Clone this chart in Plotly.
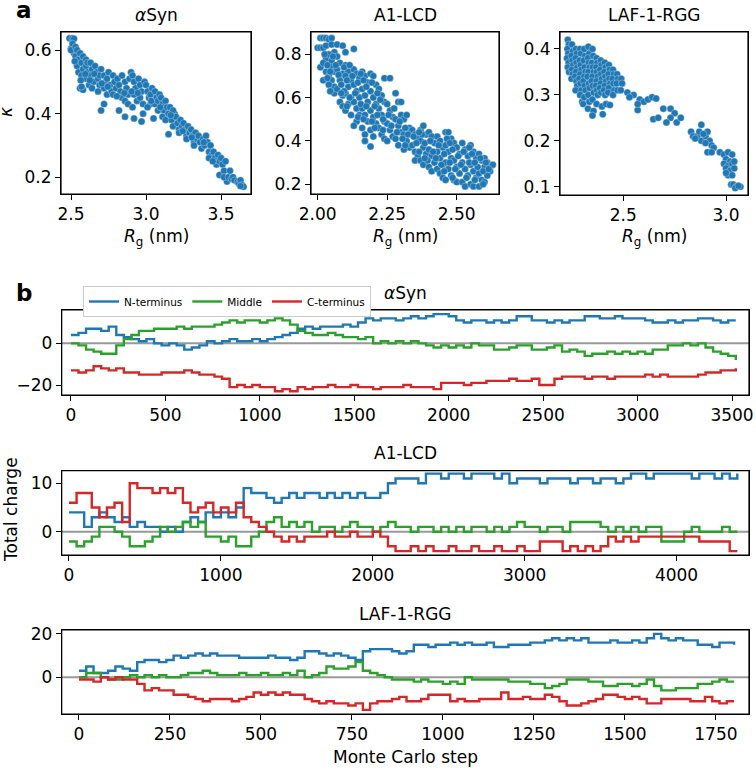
import plotly.graph_objects as go

BLUE = "#1f77b4"
GREEN = "#2ca02c"
RED = "#d62728"
FONT = "DejaVu Sans"
W, H = 756, 768

# ---------------- panel a: kappa vs Rg ----------------
asyn_points = [
    (2.49, 0.637), (2.51, 0.637), (2.52, 0.636), (2.50, 0.605), (2.51, 0.62), (2.52, 0.59), (2.50, 0.60),
    (2.53, 0.61), (2.54, 0.60), (2.53, 0.58), (2.55, 0.57), (2.54, 0.55), (2.55, 0.53), (2.56, 0.59),
    (2.56, 0.48), (2.58, 0.475), (2.57, 0.485), (2.57, 0.56), (2.58, 0.54), (2.57, 0.52), (2.58, 0.58),
    (2.60, 0.57), (2.60, 0.55), (2.61, 0.53), (2.60, 0.51), (2.62, 0.49), (2.61, 0.56),
    (2.63, 0.56), (2.64, 0.54), (2.63, 0.52), (2.65, 0.50), (2.64, 0.48), (2.66, 0.55),
    (2.67, 0.53), (2.68, 0.51), (2.69, 0.49), (2.68, 0.47), (2.70, 0.54), (2.69, 0.52),
    (2.70, 0.41), (2.72, 0.43),
    (2.72, 0.52), (2.73, 0.50), (2.72, 0.48), (2.74, 0.46), (2.75, 0.53), (2.74, 0.51),
    (2.76, 0.49), (2.77, 0.47), (2.78, 0.52), (2.79, 0.50), (2.78, 0.46), (2.80, 0.48),
    (2.81, 0.51), (2.82, 0.49), (2.83, 0.47), (2.84, 0.45), (2.82, 0.41), (2.84, 0.52),
    (2.86, 0.39), (2.86, 0.50), (2.87, 0.48), (2.88, 0.46), (2.86, 0.44), (2.89, 0.51), (2.88, 0.43),
    (2.90, 0.53), (2.91, 0.52), (2.92, 0.50), (2.93, 0.48), (2.92, 0.46), (2.94, 0.44), (2.92, 0.385), (2.91, 0.42),
    (2.95, 0.51), (2.96, 0.49), (2.97, 0.47), (2.96, 0.45), (2.98, 0.43), (2.97, 0.375), (2.98, 0.40), (2.99, 0.50),
    (3.00, 0.49), (3.01, 0.47), (3.02, 0.45), (3.03, 0.43), (3.01, 0.42), (3.04, 0.48), (3.03, 0.46),
    (3.05, 0.385), (3.06, 0.47), (3.07, 0.45), (3.06, 0.43), (3.08, 0.41), (3.09, 0.46), (3.08, 0.44),
    (3.10, 0.45), (3.11, 0.43), (3.12, 0.41), (3.11, 0.39), (3.13, 0.44), (3.14, 0.42), (3.13, 0.38),
    (3.15, 0.335), (3.15, 0.40), (3.16, 0.42), (3.17, 0.38), (3.18, 0.36), (3.19, 0.40), (3.18, 0.41),
    (3.20, 0.39), (3.21, 0.37), (3.22, 0.35), (3.23, 0.38), (3.24, 0.36), (3.22, 0.34),
    (3.25, 0.37), (3.26, 0.35), (3.27, 0.33), (3.28, 0.36), (3.29, 0.34), (3.27, 0.32),
    (3.30, 0.35), (3.31, 0.33), (3.32, 0.31), (3.33, 0.34), (3.34, 0.32), (3.32, 0.30),
    (3.35, 0.33), (3.36, 0.31), (3.37, 0.29), (3.38, 0.32), (3.39, 0.30), (3.40, 0.33),
    (3.41, 0.31), (3.42, 0.28), (3.43, 0.30), (3.44, 0.27), (3.42, 0.26),
    (3.45, 0.28), (3.46, 0.26), (3.47, 0.24), (3.48, 0.27), (3.49, 0.25), (3.49, 0.207),
    (3.50, 0.26), (3.51, 0.24), (3.52, 0.22), (3.53, 0.25), (3.54, 0.186), (3.52, 0.20),
    (3.55, 0.20), (3.56, 0.22), (3.57, 0.195), (3.58, 0.20), (3.59, 0.19),
    (3.61, 0.185), (3.62, 0.18), (3.63, 0.19), (3.64, 0.175), (3.65, 0.17), (3.63, 0.172),
    (2.525, 0.565), (2.565, 0.505), (2.595, 0.525), (2.625, 0.505), (2.655, 0.525), (2.705, 0.495),
    (2.745, 0.485), (2.805, 0.455), (2.855, 0.465), (2.905, 0.47), (2.945, 0.465), (3.035, 0.44),
    (3.095, 0.42), (3.165, 0.395), (3.245, 0.345), (3.305, 0.325), (3.385, 0.31), (3.445, 0.25),
]

a1_points = [
    (2.01, 0.875), (2.02, 0.875), (2.03, 0.875), (2.04, 0.87), (2.05, 0.875), (2.00, 0.83), (2.01, 0.83),
    (2.02, 0.83), (2.03, 0.84), (2.05, 0.845), (2.07, 0.845), (2.09, 0.84), (2.13, 0.825), (2.10, 0.81), (2.06, 0.81),
    (2.01, 0.74), (2.02, 0.68), (2.03, 0.72), (2.03, 0.78), (2.02, 0.76), (2.04, 0.70),
    (2.04, 0.80), (2.05, 0.77), (2.05, 0.74), (2.06, 0.72), (2.05, 0.68), (2.06, 0.65), (2.04, 0.66), (2.06, 0.62),
    (2.07, 0.79), (2.08, 0.76), (2.07, 0.73), (2.09, 0.71), (2.08, 0.68), (2.07, 0.64), (2.09, 0.61), (2.08, 0.58), (2.09, 0.56),
    (2.10, 0.75), (2.11, 0.72), (2.10, 0.70), (2.12, 0.68), (2.11, 0.65), (2.10, 0.62), (2.12, 0.60), (2.11, 0.57), (2.10, 0.54), (2.12, 0.52),
    (2.13, 0.73), (2.14, 0.71), (2.15, 0.69), (2.13, 0.66), (2.14, 0.63), (2.15, 0.60), (2.13, 0.58), (2.14, 0.55), (2.15, 0.52), (2.14, 0.49), (2.13, 0.47),
    (2.16, 0.72), (2.17, 0.70), (2.18, 0.67), (2.16, 0.64), (2.17, 0.61), (2.18, 0.58), (2.16, 0.55), (2.17, 0.52), (2.18, 0.49), (2.16, 0.46), (2.17, 0.43), (2.17, 0.40),
    (2.19, 0.71), (2.20, 0.70), (2.21, 0.66), (2.19, 0.63), (2.20, 0.60), (2.21, 0.57), (2.19, 0.54), (2.20, 0.51), (2.21, 0.48), (2.19, 0.45), (2.20, 0.42), (2.19, 0.374),
    (2.22, 0.64), (2.23, 0.61), (2.24, 0.58), (2.22, 0.55), (2.23, 0.52), (2.24, 0.49), (2.22, 0.46), (2.23, 0.43), (2.24, 0.41), (2.24, 0.69), (2.26, 0.69),
    (2.25, 0.57), (2.26, 0.54), (2.27, 0.51), (2.25, 0.48), (2.26, 0.45), (2.27, 0.42), (2.25, 0.40),
    (2.28, 0.62), (2.29, 0.58), (2.30, 0.58), (2.28, 0.50), (2.29, 0.47), (2.30, 0.44), (2.28, 0.41), (2.29, 0.38), (2.30, 0.52),
    (2.31, 0.50), (2.32, 0.52), (2.33, 0.46), (2.31, 0.43), (2.32, 0.40), (2.33, 0.37), (2.31, 0.36),
    (2.34, 0.45), (2.35, 0.43), (2.36, 0.41), (2.34, 0.38), (2.35, 0.35), (2.36, 0.33), (2.35, 0.31),
    (2.37, 0.45), (2.38, 0.47), (2.39, 0.43), (2.37, 0.40), (2.38, 0.37), (2.39, 0.34), (2.37, 0.31), (2.38, 0.29),
    (2.40, 0.44), (2.41, 0.42), (2.42, 0.39), (2.40, 0.36), (2.41, 0.33), (2.42, 0.30), (2.40, 0.28), (2.41, 0.26),
    (2.43, 0.42), (2.44, 0.40), (2.45, 0.37), (2.43, 0.35), (2.44, 0.32), (2.45, 0.29), (2.43, 0.27), (2.44, 0.25), (2.45, 0.23),
    (2.46, 0.44), (2.47, 0.44), (2.48, 0.41), (2.46, 0.38), (2.47, 0.35), (2.48, 0.32), (2.46, 0.30), (2.47, 0.27), (2.48, 0.24), (2.46, 0.22),
    (2.49, 0.39), (2.50, 0.37), (2.51, 0.34), (2.49, 0.31), (2.50, 0.28), (2.51, 0.25), (2.49, 0.22), (2.50, 0.21),
    (2.52, 0.39), (2.53, 0.36), (2.54, 0.33), (2.52, 0.30), (2.53, 0.27), (2.54, 0.24), (2.52, 0.21), (2.53, 0.19),
    (2.55, 0.38), (2.56, 0.35), (2.57, 0.32), (2.55, 0.29), (2.56, 0.26), (2.57, 0.23), (2.55, 0.20), (2.56, 0.19),
    (2.58, 0.34), (2.59, 0.31), (2.60, 0.28), (2.58, 0.25), (2.59, 0.22), (2.58, 0.19), (2.60, 0.32),
    (2.61, 0.30), (2.62, 0.28), (2.63, 0.29), (2.62, 0.26), (2.60, 0.21), (2.61, 0.24),
    (2.025, 0.80), (2.035, 0.75), (2.045, 0.72), (2.055, 0.79), (2.065, 0.75), (2.045, 0.63), (2.035, 0.69),
    (2.075, 0.705), (2.085, 0.66), (2.095, 0.74), (2.095, 0.63), (2.105, 0.68), (2.115, 0.60), (2.085, 0.62),
    (2.105, 0.56), (2.115, 0.75), (2.125, 0.70), (2.135, 0.62), (2.145, 0.67), (2.155, 0.57), (2.165, 0.68),
    (2.175, 0.56), (2.145, 0.51), (2.165, 0.50), (2.175, 0.65), (2.155, 0.71), (2.195, 0.67), (2.205, 0.56),
    (2.215, 0.62), (2.205, 0.46), (2.225, 0.59), (2.235, 0.50), (2.215, 0.52), (2.235, 0.45), (2.195, 0.49),
    (2.255, 0.52), (2.265, 0.47), (2.275, 0.55), (2.285, 0.44), (2.295, 0.49), (2.305, 0.41), (2.315, 0.46),
    (2.325, 0.43), (2.315, 0.38), (2.345, 0.42), (2.355, 0.39), (2.365, 0.35), (2.375, 0.43), (2.385, 0.39),
    (2.395, 0.31), (2.365, 0.44), (2.385, 0.32), (2.405, 0.40), (2.415, 0.35), (2.425, 0.32), (2.435, 0.38),
    (2.445, 0.29), (2.455, 0.34), (2.465, 0.41), (2.475, 0.30), (2.485, 0.36), (2.495, 0.27), (2.455, 0.26),
    (2.485, 0.23), (2.475, 0.39), (2.505, 0.33), (2.515, 0.29), (2.525, 0.35), (2.535, 0.23), (2.545, 0.30),
    (2.555, 0.34), (2.565, 0.22), (2.575, 0.28), (2.585, 0.32), (2.595, 0.26), (2.605, 0.30), (2.615, 0.27),
    (2.545, 0.37), (2.565, 0.30), (2.595, 0.20),
]

laf_points = [
    (2.230, 0.420), (2.235, 0.410), (2.228, 0.400), (2.232, 0.390), (2.226, 0.380), (2.234, 0.370), (2.230, 0.360), (2.236, 0.350),
    (2.250, 0.410), (2.255, 0.395), (2.248, 0.385), (2.252, 0.375), (2.256, 0.365), (2.250, 0.355), (2.254, 0.345), (2.248, 0.335),
    (2.270, 0.400), (2.274, 0.390), (2.268, 0.380), (2.272, 0.370), (2.276, 0.360), (2.270, 0.350), (2.266, 0.340), (2.272, 0.330), (2.276, 0.320), (2.268, 0.310),
    (2.290, 0.400), (2.294, 0.390), (2.288, 0.375), (2.292, 0.365), (2.296, 0.355), (2.290, 0.345), (2.286, 0.335), (2.292, 0.325), (2.296, 0.310), (2.290, 0.300), (2.300, 0.285),
    (2.310, 0.400), (2.314, 0.385), (2.308, 0.375), (2.312, 0.360), (2.316, 0.350), (2.310, 0.340), (2.306, 0.330), (2.312, 0.320), (2.316, 0.310), (2.310, 0.295), (2.305, 0.280),
    (2.330, 0.405), (2.334, 0.390), (2.328, 0.380), (2.332, 0.370), (2.336, 0.360), (2.330, 0.350), (2.326, 0.340), (2.332, 0.325), (2.336, 0.315), (2.330, 0.300), (2.335, 0.285), (2.328, 0.270),
    (2.350, 0.400), (2.354, 0.385), (2.348, 0.370), (2.352, 0.360), (2.356, 0.350), (2.350, 0.340), (2.346, 0.330), (2.352, 0.320), (2.356, 0.305), (2.350, 0.290), (2.355, 0.265), (2.350, 0.255),
    (2.370, 0.380), (2.374, 0.370), (2.368, 0.360), (2.372, 0.350), (2.376, 0.340), (2.370, 0.330), (2.366, 0.320), (2.372, 0.310), (2.376, 0.300), (2.370, 0.280),
    (2.390, 0.375), (2.394, 0.365), (2.388, 0.355), (2.392, 0.345), (2.396, 0.335), (2.390, 0.325), (2.386, 0.315), (2.392, 0.305), (2.396, 0.275), (2.400, 0.258),
    (2.410, 0.370), (2.414, 0.360), (2.408, 0.350), (2.412, 0.340), (2.416, 0.330), (2.410, 0.320), (2.406, 0.310), (2.412, 0.300), (2.416, 0.280),
    (2.430, 0.365), (2.434, 0.355), (2.428, 0.345), (2.432, 0.335), (2.436, 0.325), (2.430, 0.315), (2.426, 0.305), (2.435, 0.278),
    (2.450, 0.355), (2.454, 0.345), (2.448, 0.335), (2.452, 0.325), (2.456, 0.310), (2.450, 0.300),
    (2.470, 0.345), (2.474, 0.335), (2.468, 0.325), (2.472, 0.310),
    (2.490, 0.335), (2.494, 0.325), (2.488, 0.310),
    (2.52, 0.305), (2.55, 0.300), (2.58, 0.290), (2.60, 0.285), (2.62, 0.290), (2.64, 0.295), (2.66, 0.292),
    (2.57, 0.267), (2.57, 0.280), (2.53, 0.295), (2.646, 0.247), (2.67, 0.250),
    (2.695, 0.270), (2.73, 0.270), (2.75, 0.260), (2.73, 0.250), (2.71, 0.240), (2.76, 0.240), (2.78, 0.250),
    (2.83, 0.220), (2.84, 0.210), (2.86, 0.210), (2.87, 0.220), (2.88, 0.235), (2.88, 0.200), (2.90, 0.210), (2.91, 0.220),
    (2.92, 0.200), (2.93, 0.190), (2.94, 0.185), (2.91, 0.175), (2.93, 0.175), (2.89, 0.215), (2.85, 0.205), (2.90, 0.195),
    (2.97, 0.175), (2.99, 0.170), (3.01, 0.175), (3.03, 0.170), (3.00, 0.160), (3.02, 0.155), (2.99, 0.150), (3.01, 0.145),
    (3.03, 0.150), (3.00, 0.140), (3.02, 0.135), (3.04, 0.140), (3.01, 0.125), (3.03, 0.125), (3.00, 0.130), (3.04, 0.155),
    (3.025, 0.105), (3.035, 0.105), (3.05, 0.100), (3.07, 0.100), (3.045, 0.097), (3.06, 0.102),
]

# ---------------- panel b: total charge per region ----------------
asyn_steps = list(range(0, 3521, 40))
asyn_n = [4, 5, 7, 7, 6, 8, 4, 3, 2, 1,
          2, 0, -1, 0, -1, -3, -2, -1, 1, 0,
          1, 2, 1, 1, 2, 1, 2, 3, 4, 5,
          7, 8, 7, 8, 8, 8, 9, 8, 10, 12,
          11, 12, 12, 11, 12, 13, 12, 13, 14, 14,
          13, 11, 10, 11, 11, 10, 11, 10, 11, 13,
          13, 11, 11, 10, 11, 10, 11, 11, 13, 13,
          12, 12, 13, 12, 12, 12, 11, 10, 10, 11,
          10, 11, 11, 12, 12, 11, 10, 11, 11]
asyn_mid = [0, -1, -3, -4, -5, -5, -1, 2, 4, 6,
            6, 7, 7, 7, 8, 7, 8, 8, 8, 9,
            10, 11, 10, 11, 11, 10, 11, 12, 11, 9,
            6, 5, 4, 4, 5, 4, 3, 3, 2, 3,
            0, 1, 0, 1, 0, 1, 0, -1, -2, -1,
            -2, -1, -2, 0, -1, -1, -3, -3, -2, -1,
            -1, -3, -3, -2, -1, -4, -3, -4, -6, -5,
            -5, -4, -5, -4, -5, -4, -5, -3, -3, -1,
            -1, 0, -1, 0, -2, -4, -5, -6, -8]
asyn_c = [-13, -14, -13, -11, -12, -13, -12, -14, -14, -15,
          -15, -15, -14, -14, -14, -13, -14, -15, -15, -16,
          -17, -21, -20, -21, -20, -21, -21, -23, -22, -23,
          -21, -22, -21, -21, -20, -21, -21, -20, -21, -21,
          -22, -21, -21, -21, -20, -21, -21, -21, -22, -19,
          -19, -19, -20, -19, -19, -18, -18, -18, -17, -18,
          -18, -17, -20, -20, -17, -16, -16, -16, -17, -16,
          -16, -17, -16, -16, -16, -16, -15, -16, -15, -16,
          -16, -16, -16, -15, -14, -14, -13, -13, -12]

a1_steps = list(range(0, 4401, 50))
a1_n = [4, 4, 1, 3, 4, 3, 2, 3, 1, 2,
        1, 1, 0, 1, 0, 2, 3, 2, 4, 3,
        4, 3, 5, 9, 8, 8, 7, 6, 7, 8,
        7, 8, 8, 7, 8, 7, 8, 7, 8, 7,
        7, 8, 10, 11, 11, 11, 10, 12, 12, 11,
        12, 12, 11, 12, 12, 12, 11, 12, 10, 11,
        11, 11, 10, 11, 11, 11, 10, 11, 11, 10,
        11, 11, 10, 11, 12, 12, 11, 12, 12, 12,
        12, 12, 11, 12, 12, 11, 12, 11, 12]
a1_mid = [-2, -3, -2, -1, 1, 1, 0, -1, -3, -3,
          -2, -1, 1, 0, 1, 2, 1, 2, -1, -1,
          -2, -1, -3, -3, -1, 0, 2, 3, 1, 2,
          1, 2, 0, 1, 1, 0, 1, 2, 1, 1,
          0, 1, 2, 1, 1, 0, 1, 1, 0, 1,
          0, 1, 0, 1, 1, 0, 1, 0, 1, 2,
          1, 1, 0, 1, 1, 0, 2, 2, 2, 2,
          1, 0, 1, 0, 1, 0, 1, 1, -2, -2,
          -2, 0, 1, 0, 0, 0, 1, 0, 0]
a1_c = [6, 8, 8, 5, 3, 5, 6, 2, 10, 9,
        9, 8, 9, 8, 9, 6, 4, 5, 6, 4,
        5, 4, 6, 3, 2, 1, 0, -1, -2, -1,
        -2, -1, -1, -1, 0, -1, -1, 0, -1, -1,
        0, -1, -3, -4, -4, -3, -4, -3, -4, -4,
        -3, -4, -4, -3, -4, -4, -3, -4, -4, -3,
        -4, -4, -2, -2, -2, -4, -3, -4, -3, -4,
        -3, -1, -2, -1, -2, -1, -1, -1, -1, -1,
        -1, -1, -1, -2, -2, -2, -2, -4, -4]

laf_steps = list(range(0, 1801, 20))
laf_n = [3, 5, 2, 2, 3, 5, 4, 3, 7, 8,
         8, 7, 8, 10, 9, 10, 11, 10, 11, 10,
         10, 10, 9, 9, 9, 9, 10, 9, 9, 8,
         9, 12, 12, 11, 10, 11, 10, 9, 8, 12,
         13, 13, 13, 12, 11, 12, 15, 15, 14, 15,
         15, 16, 15, 16, 15, 15, 16, 14, 14, 15,
         15, 15, 16, 16, 17, 18, 17, 18, 17, 18,
         16, 16, 16, 17, 16, 16, 17, 16, 18, 20,
         18, 17, 18, 17, 17, 15, 15, 14, 16, 16, 15]
laf_mid = [0, 2, 2, 0, -1, -1, 0, 1, 0, 1,
           0, 1, 0, 0, 1, 2, 2, 3, 2, 1,
           1, 1, 2, 1, 1, 2, 1, 1, 2, 1,
           3, 0, 1, 2, 5, 4, 4, 5, 7, 3,
           2, 1, 0, -1, -1, -1, -2, -1, -2, -2,
           -3, -2, -3, 0, -1, -1, -1, -1, -1, -2,
           -2, -2, -3, -3, -5, -4, -3, -1, -1, -1,
           -2, -2, -4, -4, -3, -3, -4, -3, -1, -4,
           -6, -6, -5, -5, -5, -3, -3, -2, -1, -2, -2]
laf_c = [-1, -1, -2, 0, -1, 0, -1, -1, -3, -6,
         -5, -6, -6, -8, -8, -9, -10, -11, -10, -10,
         -10, -11, -10, -9, -7, -8, -7, -8, -7, -8,
         -8, -10, -11, -12, -11, -12, -12, -13, -12, -15,
         -12, -11, -11, -10, -9, -11, -11, -10, -8, -8,
         -8, -11, -10, -11, -11, -10, -10, -10, -7, -10,
         -10, -9, -10, -10, -8, -9, -11, -13, -13, -12,
         -11, -10, -8, -8, -9, -10, -9, -10, -12, -12,
         -10, -10, -10, -10, -11, -11, -9, -11, -12, -11, -11]

series_names = ["N-terminus", "Middle", "C-terminus"]
series_colors = [BLUE, GREEN, RED]

fig = go.Figure()


def add_points(points, xa, ya):
    fig.add_trace(go.Scatter(
        x=[p[0] for p in points], y=[p[1] for p in points], mode="markers",
        marker=dict(size=7, color=BLUE, line=dict(color="white", width=0.3)),
        xaxis=xa, yaxis=ya, showlegend=False, hoverinfo="skip"))


add_points(asyn_points, "x", "y")
add_points(a1_points, "x2", "y2")
add_points(laf_points, "x3", "y3")


def add_lines(steps, vals, xa, ya, legend):
    for v, name, col in zip(vals, series_names, series_colors):
        fig.add_trace(go.Scatter(
            x=steps, y=v, mode="lines", line=dict(color=col, width=2.4, shape="hv"),
            name=name, xaxis=xa, yaxis=ya, showlegend=legend, hoverinfo="skip"))


add_lines(asyn_steps, [asyn_n, asyn_mid, asyn_c], "x4", "y4", True)
add_lines(a1_steps, [a1_n, a1_mid, a1_c], "x5", "y5", False)
add_lines(laf_steps, [laf_n, laf_mid, laf_c], "x6", "y6", False)


def px_dom(a, b):
    return [a / W, b / W]


def py_dom(top, bottom):
    return [1 - bottom / H, 1 - top / H]


base = dict(showline=True, mirror=True, linecolor="black", linewidth=1, ticks="outside",
            ticklen=5, tickwidth=1, tickcolor="black", showgrid=False, zeroline=False,
            automargin=False, fixedrange=True, layer="above traces",
            tickfont=dict(family=FONT, size=17, color="black"))

layout = dict(
    template="none",
    width=W, height=H, margin=dict(l=0, r=0, t=0, b=0, pad=0), autosize=False,
    paper_bgcolor="white", plot_bgcolor="white",
    font=dict(family=FONT, color="black"),
    xaxis=dict(base, domain=px_dom(61, 251), range=[2.433, 3.70], anchor="y",
               tickvals=[2.5, 3.0, 3.5], tickformat=".1f"),
    yaxis=dict(base, domain=py_dom(32, 194), range=[0.147, 0.657], anchor="x",
               tickvals=[0.2, 0.4, 0.6], tickformat=".1f"),
    xaxis2=dict(base, domain=px_dom(311, 499), range=[1.976, 2.652], anchor="y2",
                tickvals=[2.0, 2.25, 2.5], tickformat=".2f"),
    yaxis2=dict(base, domain=py_dom(32, 194), range=[0.155, 0.903], anchor="x2",
                tickvals=[0.2, 0.4, 0.6, 0.8], tickformat=".1f"),
    xaxis3=dict(base, domain=px_dom(560, 748), range=[2.192, 3.107], anchor="y3",
                tickvals=[2.5, 3.0], tickformat=".1f"),
    yaxis3=dict(base, domain=py_dom(32, 195), range=[0.082, 0.437], anchor="x3",
                tickvals=[0.1, 0.2, 0.3, 0.4], tickformat=".1f"),
    xaxis4=dict(base, domain=px_dom(61.7, 749), range=[-49, 3590], anchor="y4",
                tickvals=[0, 500, 1000, 1500, 2000, 2500, 3000, 3500]),
    yaxis4=dict(base, domain=py_dom(310, 395), range=[-24.8, 16], anchor="x4",
                tickvals=[-20, 0]),
    xaxis5=dict(base, domain=px_dom(61.7, 749), range=[-48, 4477], anchor="y5",
                tickvals=[0, 1000, 2000, 3000, 4000]),
    yaxis5=dict(base, domain=py_dom(470.7, 555), range=[-4.8, 12.6], anchor="x5",
                tickvals=[0, 10]),
    xaxis6=dict(base, domain=px_dom(61.7, 749), range=[-47.5, 1841], anchor="y6",
                tickvals=[0, 250, 500, 750, 1000, 1250, 1500, 1750]),
    yaxis6=dict(base, domain=py_dom(630, 714), range=[-16.9, 21.8], anchor="x6",
                tickvals=[0, 20]),
    legend=dict(orientation="h", x=83 / W, y=1 - 286 / H, xanchor="left", yanchor="top",
                bordercolor="#cccccc", borderwidth=1, bgcolor="white",
                font=dict(family=FONT, size=10.5, color="black"), itemwidth=30,
                tracegroupgap=0),
)
fig.update_layout(**layout)

# zero reference lines and panel frames
for ax in ["4", "5", "6"]:
    fig.add_shape(type="line", xref=f"x{ax} domain", yref=f"y{ax}", x0=0, x1=1, y0=0, y1=0,
                  line=dict(color="#999999", width=2), layer="below")
for ax in ["", "2", "3", "4", "5", "6"]:
    fig.add_shape(type="rect", xref=f"x{ax} domain", yref=f"y{ax} domain", x0=0, x1=1, y0=0, y1=1,
                  line=dict(color="black", width=1.2), fillcolor="rgba(0,0,0,0)", layer="above")


def ann(text, px, py, size=17, bold=False, angle=0, xanchor="center"):
    if bold:
        text = f"<b>{text}</b>"
    fig.add_annotation(text=text, x=px / W, y=1 - py / H, xref="paper", yref="paper",
                       showarrow=False, xanchor=xanchor, yanchor="middle", textangle=angle,
                       font=dict(family=FONT, size=size, color="black"))


ann("a", 14, 10, size=23, bold=True, xanchor="left")
ann("b", 14, 293, size=23, bold=True, xanchor="left")
ann("<i>α</i>Syn", 156, 15)
ann("A1-LCD", 405, 15)
ann("LAF-1-RGG", 654, 15)
for cx in [156, 405, 654]:
    ann("<i>R</i><sub>g</sub> (nm)", cx, 238)
ann("<i>κ</i>", 6, 112, angle=-90)
ann("<i>α</i>Syn", 405, 293)
ann("A1-LCD", 405, 453)
ann("LAF-1-RGG", 405, 614)
ann("Total charge", 11, 510, angle=-90)
ann("Monte Carlo step", 405, 757)

fig.write_html("out.html", config={"displayModeBar": False, "staticPlot": True},
               post_script="document.body.style.margin='0px';")
